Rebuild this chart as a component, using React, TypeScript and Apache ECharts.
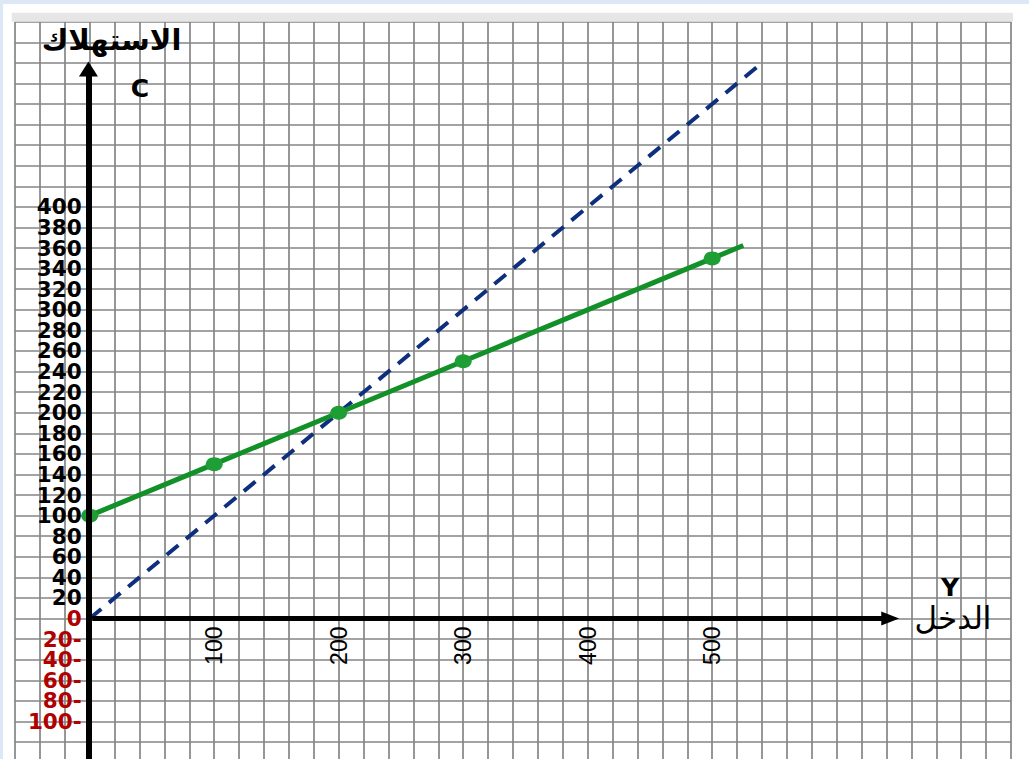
import React, { useEffect, useRef } from "react";
import * as echarts from "echarts";

// ---- data ----
const incomeY = [0, 100, 200, 300, 500, 525];
const consumptionC = [100, 150, 200, 250, 350, 362.5];
const markedPoints = [true, true, true, true, true, false];
const diagonalY = [0, 540];
const diagonalC = [0, 540];
const interceptY = [0, 0];
const interceptC = [0, 100];
const xTickLabels = [100, 200, 300, 400, 500];
const yTickLabels = [0, 20, 40, 60, 80, 100, 120, 140, 160, 180, 200, 220, 240, 260, 280, 300, 320, 340, 360, 380, 400];
const yNegLabels = [-20, -40, -60, -80, -100];
const axisXEnd = 643;
const axisYEnd = 534;

const X_MIN = -60, X_MAX = 740, Y_MIN = -140, Y_MAX = 580;
const GRID_LEFT = 15, GRID_TOP = 21.7, GRID_W = 996, GRID_H = 740.9;

export default function App() {
  const ref = useRef<HTMLDivElement>(null);

  useEffect(() => {
    document.body.style.margin = "0";
    const chart = echarts.init(ref.current!, undefined, { renderer: "svg" });
    const gridColor = "#858585";
    const zeroX = GRID_LEFT + ((0 - X_MIN) / (X_MAX - X_MIN)) * GRID_W;
    const zeroY = GRID_TOP + ((Y_MAX - 0) / (Y_MAX - Y_MIN)) * GRID_H;
    const option: any = {
      animation: false,
      backgroundColor: "#ffffff",
      grid: {
        left: GRID_LEFT, top: GRID_TOP, width: GRID_W, height: GRID_H,
        containLabel: false, outerBoundsMode: "none",
      },
      xAxis: {
        type: "value",
        position: "bottom",
        offset: -(GRID_TOP + GRID_H - zeroY),
        min: X_MIN,
        max: X_MAX,
        interval: 20,
        axisLine: { show: false, onZero: false },
        axisTick: { show: false },
        splitLine: { show: true, lineStyle: { color: gridColor, width: 1.7 } },
        axisLabel: {
          rotate: 90,
          margin: 8,
          fontFamily: "Liberation Sans",
          fontSize: 23,
          color: "#000",
          hideOverlap: false,
          formatter: (v: number) => (xTickLabels.includes(Number(v)) ? String(v) : ""),
        },
      },
      yAxis: {
        type: "value",
        position: "left",
        offset: -(zeroX - GRID_LEFT),
        min: Y_MIN,
        max: Y_MAX,
        interval: 20,
        axisLine: { show: false, onZero: false },
        axisTick: { show: false },
        splitLine: { show: true, lineStyle: { color: gridColor, width: 1.7 } },
        axisLabel: {
          margin: 8,
          fontFamily: "DejaVu Sans",
          fontWeight: "bold",
          fontSize: 21.5,
          lineHeight: 20,
          hideOverlap: false,
          formatter: (v: number) => {
            const n = Number(v);
            if (yNegLabels.includes(n)) return `${-n}-`;
            if (yTickLabels.includes(n)) return String(n);
            return "";
          },
          color: (v: any) => (Number(v) <= 0 ? "#b00000" : "#000000"),
        },
      },
      graphic: [
        { type: "rect", shape: { x: 0, y: 0, width: 1029, height: 4 }, style: { fill: "#dce8f5" }, z: 100 },
        { type: "rect", shape: { x: 0, y: 0, width: 3, height: 759 }, style: { fill: "#dce8f5" }, z: 100 },
        { type: "rect", shape: { x: 11.7, y: 12.7, width: 1001.3, height: 9 }, style: { fill: "#e6e6e6" }, z: 100 },
        {
          type: "text", x: 111.5, y: 40, z: 100,
          style: { text: "الاستهلاك", fontFamily: "DejaVu Sans", fontWeight: "bold", fontSize: 29, fill: "#000", align: "center", verticalAlign: "middle" },
        },
        {
          type: "text", x: 140, y: 88.5, z: 100,
          style: { text: "C", fontFamily: "DejaVu Sans", fontWeight: "bold", fontSize: 25, fill: "#000", align: "center", verticalAlign: "middle" },
        },
        {
          type: "text", x: 950, y: 587.5, z: 100,
          style: { text: "Y", fontFamily: "DejaVu Sans", fontWeight: "bold", fontSize: 25, fill: "#000", align: "center", verticalAlign: "middle" },
        },
        {
          type: "text", x: 953, y: 617.5, z: 100,
          style: { text: "الدخل", fontFamily: "DejaVu Sans", fontSize: 31, fill: "#000", align: "center", verticalAlign: "middle" },
        },
      ],
      series: [
        {
          type: "line",
          name: "axes",
          data: [],
          z: 1,
          silent: true,
          markLine: {
            silent: true,
            animation: false,
            label: { show: false },
            emphasis: { disabled: true },
            data: [
              [
                { coord: [2, 0], symbol: "none", lineStyle: { color: "#000", width: 4.8, type: "solid" } },
                { coord: [axisXEnd, 0], symbol: "triangle", symbolSize: [14, 18] },
              ],
              [
                { coord: [-1, -140], symbol: "none", lineStyle: { color: "#000", width: 6, type: "solid" } },
                { coord: [-1, axisYEnd], symbol: "triangle", symbolSize: [19, 15] },
              ],
            ],
          },
        },
        {
          type: "line",
          name: "C=Y",
          z: 2,
          symbol: "none",
          data: diagonalY.map((y, i) => [y, diagonalC[i]]),
          lineStyle: { color: "#0d2f7d", width: 4, type: [15, 10] },
        },
        {
          type: "line",
          name: "intercept",
          z: 3,
          symbol: "none",
          data: interceptY.map((y, i) => [y, interceptC[i]]),
          lineStyle: { color: "#c00000", width: 3.5 },
        },
        {
          type: "line",
          name: "C",
          z: 4,
          symbol: "circle",
          symbolSize: [17, 14],
          itemStyle: { color: "#1f9e36" },
          lineStyle: { color: "#139129", width: 5 },
          data: incomeY.map((y, i) =>
            markedPoints[i] ? [y, consumptionC[i]] : { value: [y, consumptionC[i]], symbol: "none" }
          ),
        },
      ],
    };
    chart.setOption(option);
    return () => chart.dispose();
  }, []);

  return (
    <div
      ref={ref}
      style={{ position: "absolute", left: 0, top: 0, width: 1029, height: 759, overflow: "hidden" }}
    />
  );
}
